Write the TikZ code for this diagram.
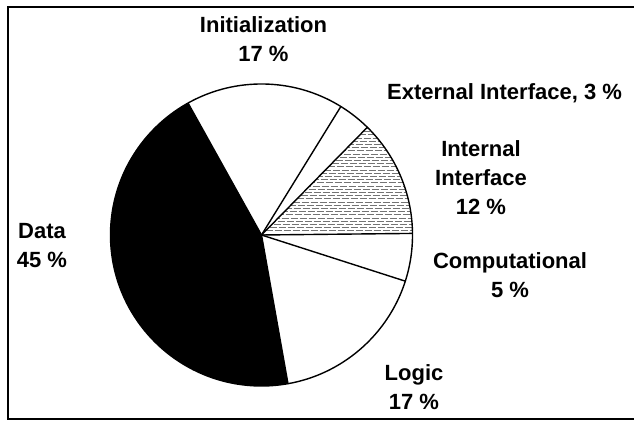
\documentclass[tikz,border=0pt]{standalone}
\usepackage{fontspec}
\setmainfont{Liberation Sans}
\begin{document}
\begin{tikzpicture}[x=1pt,y=1pt,
  lbl/.style={font=\fontsize{22}{29}\selectfont\bfseries, align=center, inner sep=0pt},
  slice/.style={draw=black, line width=1.4pt, line join=round},
  hatch/.style={draw=black!55, line width=0.7pt}]
\useasboundingbox (0,0) rectangle (634,422);
\coordinate (c) at (261.5,187);
\def\R{151}
% Data slice (black)
\fill[black] (c) -- ++(119.1:\R) arc[start angle=119.1, end angle=280.1, radius=\R] -- cycle;
% Internal Interface slice (hatched)
\begin{scope}
  \clip (c) -- ++(0.6:\R) arc[start angle=0.6, end angle=45.5, radius=\R] -- cycle;
  \foreach \k in {0,...,40}{
    \pgfmathsetmacro\ph{mod(\k*5,9)}
    \draw[hatch, dash pattern=on 7pt off 2pt, dash phase=\ph pt] (261.5,188+\k*3.2) -- ++(160,0);
  }
\end{scope}
% outline and separators
\draw[slice] (c) circle[radius=\R];
\foreach \a in {119.1,58.3,45.5,0.6,-17.8,-79.9}
  \draw[slice] (c) -- ++(\a:\R);
% frame
\draw[line width=2.5pt] (634,415) -- (8,415) -- (8,3) -- (634,3);
% labels
\node[lbl] (init) at (263.5,383) {Initialization\\17 \%};
\node[lbl, anchor=west] (ext) at (387,329) {External Interface, 3 \%};
\node[lbl] (intl) at (481,244) {Internal\\Interface\\12 \%};
\node[lbl] (data) at (42,176) {Data\\45 \%};
\node[lbl] (comp) at (510,147) {Computational\\5 \%};
\node[lbl] (logic) at (414,35) {Logic\\17 \%};
\end{tikzpicture}
\end{document}
